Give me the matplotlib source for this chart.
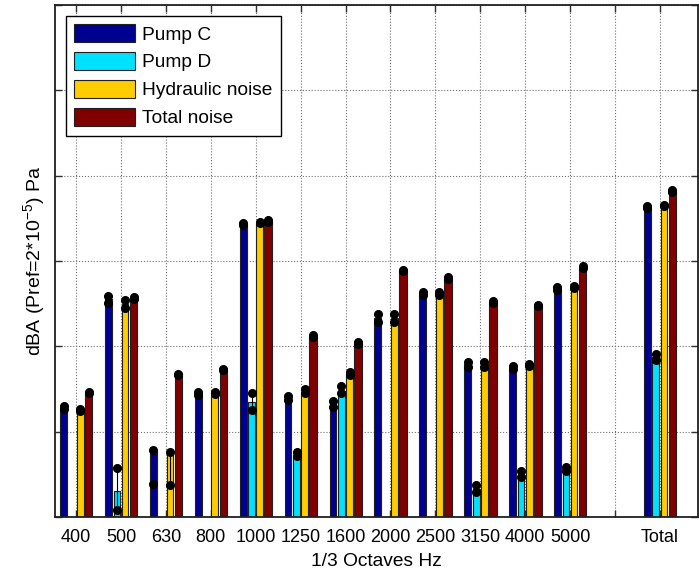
import numpy as np
import matplotlib
matplotlib.use("Agg")
import matplotlib.pyplot as plt

plt.rcParams['font.family'] = ['Liberation Sans', 'DejaVu Sans']
plt.rcParams['mathtext.fontset'] = 'custom'
plt.rcParams['mathtext.rm'] = 'Liberation Sans'
plt.rcParams['mathtext.it'] = 'Liberation Sans:italic'

nan = np.nan
categories = ['400', '500', '630', '800', '1000', '1250', '1600', '2000',
              '2500', '3150', '4000', '5000', '', 'Total']
series_names = ['Pump C', 'Pump D', 'Hydraulic noise', 'Total noise']

pump_c = [12.8, 25.5, 7.8, 14.4, 34.3, 13.9, 13.2, 23.3, 26.2, 17.9, 17.5, 26.8, nan, 36.3]
pump_c_lo = [12.6, 25.1, 3.9, 14.25, 34.2, 13.7, 12.9, 22.9, 26.0, 17.6, 17.3, 26.6, nan, 36.2]
pump_c_hi = [13.0, 25.9, 7.8, 14.6, 34.4, 14.2, 13.6, 23.8, 26.4, 18.2, 17.7, 27.0, nan, 36.4]

pump_d = [nan, 3.1, nan, nan, 13.5, 7.1, 14.8, nan, nan, 3.3, 5.0, 5.6, nan, 18.7]
pump_d_lo = [nan, 0.8, nan, nan, 12.5, 7.1, 14.5, nan, nan, 2.9, 4.7, 5.4, nan, 18.4]
pump_d_hi = [nan, 5.7, nan, nan, 14.5, 7.6, 15.3, nan, nan, 3.8, 5.4, 5.9, nan, 19.1]

hydraulic = [12.5, 25.0, 7.6, 14.5, 34.5, 14.7, 16.8, 23.3, 26.2, 17.9, 17.8, 26.9, nan, 36.5]
hydraulic_lo = [12.4, 24.5, 3.7, 14.4, 34.4, 14.5, 16.6, 22.9, 26.0, 17.6, 17.7, 26.8, nan, 36.4]
hydraulic_hi = [12.6, 25.4, 7.6, 14.6, 34.6, 15.0, 17.0, 23.8, 26.4, 18.2, 17.9, 27.1, nan, 36.6]

total_noise = [14.6, 25.7, 16.7, 17.3, 34.7, 21.2, 20.4, 28.9, 28.0, 25.2, 24.8, 29.3, nan, 38.2]
total_noise_lo = [14.5, 25.6, 16.6, 17.2, 34.6, 21.1, 20.3, 28.8, 27.9, 25.1, 24.7, 29.2, nan, 38.1]
total_noise_hi = [14.7, 25.8, 16.8, 17.4, 34.8, 21.3, 20.5, 29.0, 28.1, 25.3, 24.9, 29.4, nan, 38.3]

colors = ['#000090', '#00E0FF', '#FFCC00', '#800000']
offsets = [-0.28, -0.09, 0.09, 0.28]
widths = [0.15, 0.15, 0.15, 0.17]

values = [pump_c, pump_d, hydraulic, total_noise]
los = [pump_c_lo, pump_d_lo, hydraulic_lo, total_noise_lo]
his = [pump_c_hi, pump_d_hi, hydraulic_hi, total_noise_hi]

fig = plt.figure(figsize=(6.99, 5.71), dpi=100)
ax = fig.add_axes([55/699, 54/571, 643/699, 512/571])

x = np.arange(1, len(categories) + 1)
ax.grid(True, linestyle=':', color='#707070', linewidth=0.8, zorder=0)
ax.set_axisbelow(True)

for v, lo, hi, c, off, w, name in zip(values, los, his, colors, offsets, widths, series_names):
    v = np.array(v, dtype=float)
    lo = np.array(lo, dtype=float)
    hi = np.array(hi, dtype=float)
    ax.bar(x + off, np.nan_to_num(v), width=w, color=c, edgecolor='#202020',
           linewidth=0.8, label=name, zorder=2)
    m = ~np.isnan(lo)
    ax.vlines((x + off)[m], lo[m], hi[m], color='black', linewidth=0.8, zorder=3)
    ax.plot((x + off)[m], lo[m], 'o', color='black', markersize=5.5, zorder=4)
    ax.plot((x + off)[m], hi[m], 'o', color='black', markersize=5.5, zorder=4)

ax.set_xlim(0.53, 14.85)
ax.set_ylim(0, 60)
ax.set_xticks(x)
ax.set_xticklabels(categories, fontsize=13)
ax.set_yticks(np.arange(0, 61, 10))
ax.set_yticklabels([])
ax.tick_params(direction='in', top=True, right=True, length=5, width=1,
               color='#303030', pad=9)
ax.tick_params(axis='y', pad=2)
for s in ax.spines.values():
    s.set_linewidth(1.3)
    s.set_color('#202020')

ax.set_xlabel('1/3 Octaves Hz', fontsize=13.8, labelpad=5)
ax.set_ylabel('dBA (Pref=2*10$^{\\mathrm{-5}}$) Pa', fontsize=14, labelpad=4)

leg = ax.legend(loc='upper left', fontsize=13.8, handlelength=3.15, handleheight=1.05,
                labelspacing=0.44, handletextpad=0.4, borderaxespad=0.55,
                borderpad=0.45, fancybox=False, framealpha=1, edgecolor='black')
leg.get_frame().set_linewidth(1.0)

fig.savefig('out.png', dpi=100)
